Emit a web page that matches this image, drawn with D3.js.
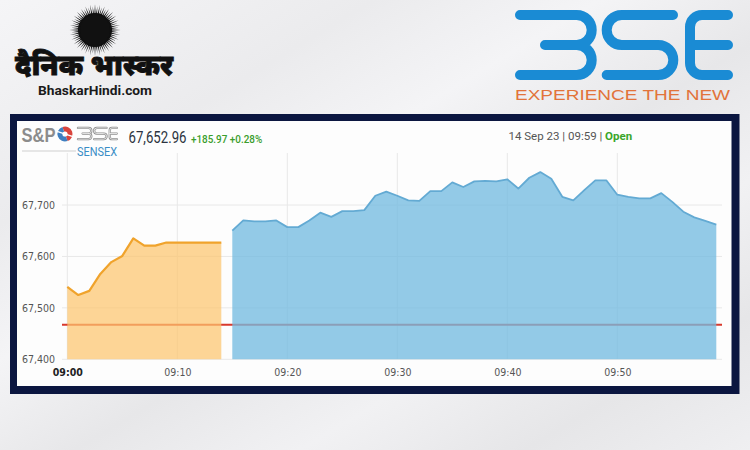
<!DOCTYPE html>
<html><head><meta charset="utf-8">
<script src="https://cdn.jsdelivr.net/npm/d3@7"></script>
<style>html,body{margin:0;padding:0;background:#ececee;overflow:hidden}</style>
</head><body><svg id="c" width="750" height="450"></svg>
<script>
// ---------- DATA ----------
const preOpenTimes = ["09:00","09:01","09:02","09:03","09:04","09:05","09:06","09:07","09:08","09:09","09:10","09:11","09:12","09:13","09:14"];
const preOpenValues = [67541,67525,67533,67566,67589,67601,67635,67621,67621,67627,67627,67627,67627,67627,67627];
const sessionTimes = ["09:15","09:16","09:17","09:18","09:19","09:20","09:21","09:22","09:23","09:24","09:25","09:26","09:27","09:28","09:29","09:30","09:31","09:32","09:33","09:34","09:35","09:36","09:37","09:38","09:39","09:40","09:41","09:42","09:43","09:44","09:45","09:46","09:47","09:48","09:49","09:50","09:51","09:52","09:53","09:54","09:55","09:56","09:57","09:58","09:59"];
const sessionValues = [67650,67670,67668,67668,67670,67657,67657,67670,67685,67677,67688,67688,67690,67718,67726,67718,67709,67708,67727,67727,67744,67735,67746,67747,67746,67750,67732,67753,67764,67751,67716,67709,67729,67748,67748,67720,67716,67713,67713,67723,67706,67687,67676,67669,67662];
const prevClose = 67466.99;
const yTicks = [67400, 67500, 67600, 67700];
const xTickLabels = ["09:00","09:10","09:20","09:30","09:40","09:50"];
const indexValue = "67,652.96";
const indexChange = "+185.97 +0.28%";
const stamp = ["14 Sep 23 | 09:59 | ", "Open"];

// ---------- SETUP ----------
const svg = d3.select("#c");
const parse = d3.timeParse("%H:%M");
const defs = svg.append("defs");
const bg = defs.append("linearGradient").attr("id","bg").attr("x1",0).attr("y1",0).attr("x2",1).attr("y2",1);
[[0,"#f5f5f7"],[0.25,"#ebebed"],[0.4,"#f4f4f6"],[0.55,"#e7e7e9"],[0.7,"#f1f1f3"],[0.85,"#e6e6e8"],[1,"#efeff1"]]
  .forEach(s=>bg.append("stop").attr("offset",s[0]).attr("stop-color",s[1]));
svg.append("rect").attr("width",750).attr("height",450).attr("fill","url(#bg)");

// ---------- Dainik Bhaskar logo ----------
const sun = svg.append("g").attr("transform","translate(95,30)");
sun.append("circle").attr("r",17).attr("fill","#111");
sun.selectAll("path.ray").data(d3.range(64)).join("path")
  .attr("fill","#111")
  .attr("d", i => {
    const a = i/64*2*Math.PI, w = 0.045;
    const p = (r,t)=>[r*Math.cos(t), r*Math.sin(t)];
    const [x1,y1]=p(15,a-w),[x2,y2]=p(15,a+w),[x3,y3]=p(i%2?23.5:25.5,a);
    return `M${x1},${y1}L${x3},${y3}L${x2},${y2}Z`;
  });
svg.append("text").attr("x",15).attr("y",75).attr("textLength",158).attr("lengthAdjust","spacingAndGlyphs")
  .attr("font-family","'Noto Sans', 'Noto Sans Devanagari', sans-serif").attr("font-weight",900).attr("font-size",29)
  .attr("fill","#111").attr("stroke","#111").attr("stroke-width",0.8).text("दैनिक भास्कर");
svg.append("text").attr("x",38).attr("y",95).attr("textLength",114).attr("lengthAdjust","spacingAndGlyphs")
  .attr("font-family","Roboto, sans-serif").attr("font-weight",700).attr("font-size",13.5)
  .attr("fill","#1a1a1a").text("BhaskarHindi.com");

// ---------- BSE logo ----------
function bsePaths(){
  return [
    "M520,15H576.7A15,15 0 0 1 576.7,45H545M576.7,45A15,15 0 0 1 576.7,75H520",
    "M673,15H621.7A15,15 0 0 0 621.7,45H658.3A15,15 0 0 1 658.3,75H606.7",
    "M728,15H702A12,12 0 0 0 690,27V63A12,12 0 0 0 702,75H728M690,45H728"
  ];
}
svg.append("g").selectAll("path").data(bsePaths()).join("path")
  .attr("d",d=>d).attr("fill","none").attr("stroke","#1a8bd4").attr("stroke-width",10)
  .attr("stroke-linecap","round").attr("stroke-linejoin","round");
svg.append("text").attr("x",515).attr("y",100).attr("textLength",215).attr("lengthAdjust","spacingAndGlyphs")
  .attr("font-family","'Liberation Sans', Arial, sans-serif").attr("font-size",14.5)
  .attr("fill","#e2733a").text("EXPERIENCE THE NEW");

// ---------- Panel ----------
svg.append("rect").attr("x",10).attr("y",114).attr("width",729.5).attr("height",280).attr("fill","#0b1640");
svg.append("rect").attr("x",17).attr("y",121).attr("width",714.5).attr("height",265).attr("fill","#fdfdfd");

// header: S&P BSE SENSEX mini logo
svg.append("text").attr("x",21.5).attr("y",142).attr("textLength",34).attr("lengthAdjust","spacingAndGlyphs")
  .attr("font-family","'Liberation Sans', Arial, sans-serif").attr("font-weight",700).attr("font-size",20)
  .attr("fill","#8c8c8c").text("S&P");
const ic = svg.append("g").attr("transform","translate(65,134)");
ic.append("path").attr("d",d3.arc()({innerRadius:0,outerRadius:7.5,startAngle:-0.35,endAngle:Math.PI-0.35})).attr("fill","#d9443c");
ic.append("path").attr("d",d3.arc()({innerRadius:0,outerRadius:7.5,startAngle:Math.PI-0.35,endAngle:2*Math.PI-0.35})).attr("fill","#3f7fc0");
ic.append("circle").attr("r",2.6).attr("fill","#fff");
ic.append("line").attr("x1",-8).attr("y1",-2.6).attr("x2",8).attr("y2",2.6).attr("stroke","#fff").attr("stroke-width",1.4);
const mini = svg.append("g").attr("transform","translate(77,127) scale(0.187) translate(-515,-10)");
mini.selectAll("path.o").data(bsePaths()).join("path").attr("d",d=>d).attr("fill","none")
  .attr("stroke","#8c8c8c").attr("stroke-width",12).attr("stroke-linecap","round").attr("stroke-linejoin","round");
mini.selectAll("path.i").data(bsePaths()).join("path").attr("d",d=>d).attr("fill","none")
  .attr("stroke","#fdfdfd").attr("stroke-width",4).attr("stroke-linecap","round").attr("stroke-linejoin","round");
svg.append("line").attr("x1",22).attr("x2",76).attr("y1",151).attr("y2",151).attr("stroke","#cfcfcf");
svg.append("text").attr("x",77).attr("y",156).attr("textLength",40).attr("lengthAdjust","spacingAndGlyphs")
  .attr("font-family","Roboto, sans-serif").attr("font-size",12.5).attr("fill","#3a8dc6").text("SENSEX");

svg.append("text").attr("transform","translate(128.5,143.3) scale(0.8,1)")
  .attr("font-family","Roboto, sans-serif").attr("font-size",16.5).attr("fill","#2c3340").text(indexValue);
svg.append("text").attr("transform","translate(191,143) scale(0.9,1)")
  .attr("font-family","Roboto, sans-serif").attr("font-weight",500).attr("font-size",11).attr("fill","#3a9d2c").text(indexChange);
const st = svg.append("text").attr("x",508.5).attr("y",139.5)
  .attr("font-family","Roboto, sans-serif").attr("font-size",11.5).attr("fill","#555");
st.append("tspan").text(stamp[0]);
st.append("tspan").attr("font-weight",700).attr("fill","#3aa62a").text(stamp[1]);

// ---------- Chart ----------
const x = d3.scaleTime().domain([parse("09:00"), parse("10:00")]).range([67.3, 727.3]);
const y = d3.scaleLinear().domain([67400, 67700]).range([359.3, 205]);
const plotTop = 153, gridLeft = 62, gridRight = 722;

const xTicks = xTickLabels.map(parse);
svg.append("g").selectAll("line").data(xTicks).join("line")
  .attr("x1",d=>x(d)).attr("x2",d=>x(d)).attr("y1",plotTop).attr("y2",y(67400))
  .attr("stroke","#e8e8e8").attr("stroke-width",1);
svg.append("g").selectAll("line").data(yTicks).join("line")
  .attr("x1",gridLeft).attr("x2",gridRight).attr("y1",d=>y(d)).attr("y2",d=>y(d))
  .attr("stroke","#e8e8e8").attr("stroke-width",1);

// previous close line
svg.append("line").attr("x1",gridLeft).attr("x2",gridRight).attr("y1",y(prevClose)).attr("y2",y(prevClose))
  .attr("stroke","#d8392c").attr("stroke-width",2);

const pre = preOpenTimes.map((t,i)=>({t:parse(t), v:preOpenValues[i]}));
const ses = sessionTimes.map((t,i)=>({t:parse(t), v:sessionValues[i]}));
const area = d3.area().x(d=>x(d.t)).y0(y(67400)).y1(d=>y(d.v));
const line = d3.line().x(d=>x(d.t)).y(d=>y(d.v));

svg.append("path").datum(pre).attr("d",area).attr("fill","#fcc56e").attr("fill-opacity",0.72);
svg.append("path").datum(pre).attr("d",line).attr("fill","none").attr("stroke","#f0a32c").attr("stroke-width",2.2).attr("stroke-linejoin","round");
svg.append("path").datum(ses).attr("d",area).attr("fill","#74bbe0").attr("fill-opacity",0.78);
svg.append("path").datum(ses).attr("d",line).attr("fill","none").attr("stroke","#63aad3").attr("stroke-width",1.8).attr("stroke-linejoin","round");

// axes
const yAxis = svg.append("g").attr("transform","translate(58,0)")
  .call(d3.axisLeft(y).tickValues(yTicks).tickSize(0).tickPadding(3).tickFormat(d3.format(",")));
yAxis.select(".domain").remove();
yAxis.selectAll("text").attr("font-family","'DejaVu Sans Condensed','DejaVu Sans',sans-serif").attr("font-size",10.5).attr("fill","#555");

const xAxis = svg.append("g").attr("transform",`translate(0,${y(67400)})`)
  .call(d3.axisBottom(x).tickValues(xTicks).tickSize(0).tickPadding(9).tickFormat(d3.timeFormat("%H:%M")));
xAxis.select(".domain").remove();
xAxis.selectAll("text").attr("font-family","'DejaVu Sans Condensed','DejaVu Sans',sans-serif").attr("font-size",10.5)
  .attr("fill",(d,i)=>i===0?"#222":"#555").attr("font-weight",(d,i)=>i===0?700:400);
</script></body></html>
